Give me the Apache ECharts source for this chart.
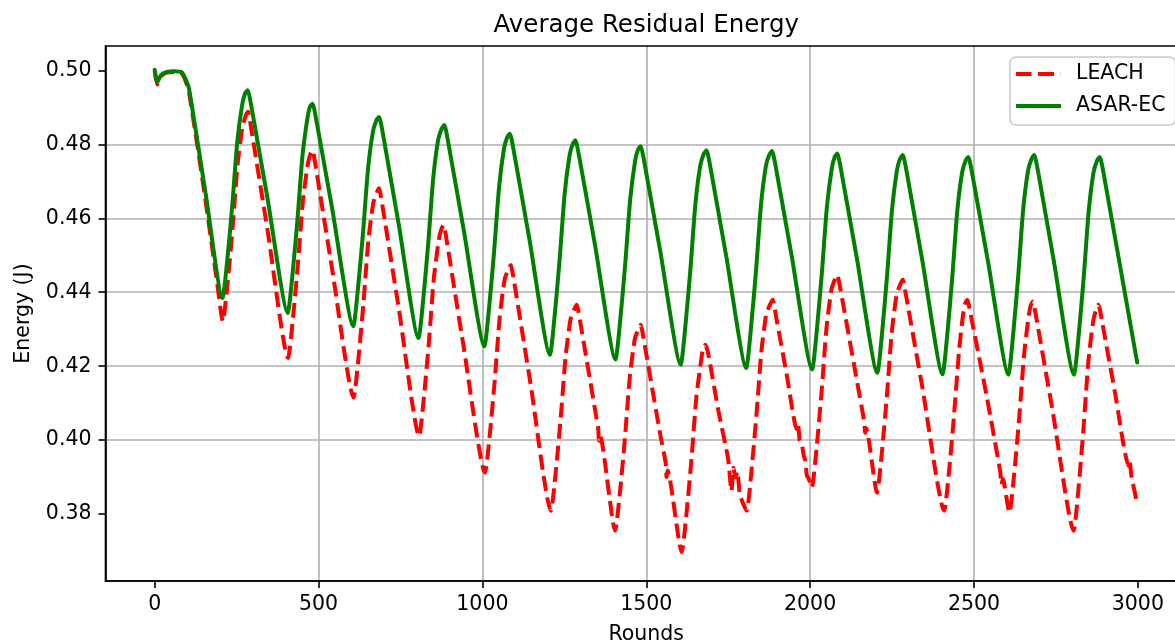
<!DOCTYPE html>
<html>
<head>
<meta charset="utf-8">
<script src="https://cdn.jsdelivr.net/npm/echarts@6/dist/echarts.min.js"></script>
<style>
html,body{margin:0;padding:0;background:#fff;}
#c{width:1175px;height:643px;}
</style>
</head>
<body>
<div id="c"></div>
<script>
// ---- data ----
const seriesNames = ['LEACH', 'ASAR-EC'];
const titleText = 'Average Residual Energy';
const xName = 'Rounds';
const yName = 'Energy (J)';
const xTicks = [0, 500, 1000, 1500, 2000, 2500, 3000];
const yTicks = [0.38, 0.40, 0.42, 0.44, 0.46, 0.48, 0.50];

const leachX = [0, 8, 20, 37, 60, 83, 95, 105, 150, 190, 208,
  223, 238, 253, 268, 278, 285, 290, 295, 345, 407,
  422, 437, 452, 467, 475, 482, 487, 492, 542, 607,
  622, 637, 652, 667, 678, 685, 690, 695, 745, 807,
  822, 837, 852, 867, 875, 882, 887, 892, 942, 1008,
  1023, 1038, 1053, 1068, 1080, 1087, 1092, 1097, 1147, 1209,
  1224, 1239, 1254, 1269, 1281, 1288, 1293, 1298, 1348, 1353, 1356, 1359, 1405,
  1420, 1435, 1450, 1465, 1476, 1483, 1488, 1493, 1543, 1559, 1562, 1565, 1608,
  1623, 1638, 1653, 1668, 1673, 1680, 1685, 1690, 1720, 1750, 1760, 1766, 1772, 1778, 1786, 1806,
  1821, 1836, 1851, 1866, 1879, 1886, 1891, 1896, 1930, 1959, 1963, 1968, 1975, 1980, 1985, 1990, 1996, 2005,
  2020, 2035, 2050, 2065, 2076, 2083, 2088, 2093, 2140, 2165, 2168, 2171, 2204,
  2219, 2234, 2249, 2264, 2276, 2283, 2288, 2293, 2343, 2409,
  2424, 2439, 2454, 2466, 2473, 2480, 2485, 2490, 2540, 2580, 2584, 2588, 2608,
  2623, 2638, 2653, 2666, 2673, 2680, 2685, 2690, 2740, 2804,
  2819, 2834, 2849, 2864, 2873, 2880, 2885, 2890, 2930, 2972, 2975, 2980, 2996];
const leachY = [0.4998, 0.4962, 0.4985, 0.4994, 0.4996, 0.4992, 0.4970, 0.4940, 0.4680, 0.4430, 0.4321,
  0.4429, 0.4576, 0.4746, 0.4848, 0.4877, 0.4888, 0.4868, 0.4841, 0.4565, 0.4222,
  0.4329, 0.4475, 0.4644, 0.4745, 0.4773, 0.4784, 0.4764, 0.4737, 0.4460, 0.4115,
  0.4223, 0.4370, 0.4540, 0.4641, 0.4670, 0.4681, 0.4661, 0.4634, 0.4356, 0.4011,
  0.4120, 0.4268, 0.4439, 0.4542, 0.4571, 0.4582, 0.4562, 0.4535, 0.4257, 0.3912,
  0.4019, 0.4165, 0.4334, 0.4435, 0.4463, 0.4474, 0.4454, 0.4428, 0.4152, 0.3809,
  0.3915, 0.4060, 0.4227, 0.4327, 0.4355, 0.4366, 0.4348, 0.4323, 0.4060, 0.4035, 0.3998, 0.4012, 0.3755,
  0.3861, 0.4006, 0.4173, 0.4273, 0.4301, 0.4312, 0.4294, 0.4269, 0.4014, 0.3940, 0.3900, 0.3918, 0.3697,
  0.3804, 0.3949, 0.4118, 0.4219, 0.4247, 0.4258, 0.4248, 0.4230, 0.4080, 0.3948, 0.3862, 0.3925, 0.3900, 0.3915, 0.3852, 0.3809,
  0.3917, 0.4066, 0.4237, 0.4340, 0.4369, 0.4380, 0.4362, 0.4335, 0.4170, 0.4030, 0.4045, 0.4000, 0.3990, 0.3960, 0.3945, 0.3905, 0.3895, 0.3872,
  0.3981, 0.4131, 0.4303, 0.4407, 0.4436, 0.4447, 0.4429, 0.4406, 0.4174, 0.4050, 0.4020, 0.4032, 0.3858,
  0.3967, 0.4117, 0.4290, 0.4394, 0.4423, 0.4434, 0.4415, 0.4390, 0.4140, 0.3809,
  0.3917, 0.4066, 0.4237, 0.4335, 0.4369, 0.4380, 0.4363, 0.4340, 0.4113, 0.3915, 0.3880, 0.3895, 0.3804,
  0.3912, 0.4061, 0.4232, 0.4330, 0.4364, 0.4375, 0.4356, 0.4332, 0.4079, 0.3755,
  0.3871, 0.4030, 0.4213, 0.4323, 0.4354, 0.4366, 0.4350, 0.4325, 0.4130, 0.3930, 0.3945, 0.3905, 0.3836];

const asarX = [0, 8, 20, 37, 60, 83, 95, 105, 155, 207,
  222, 237, 252, 267, 276, 284, 289, 296, 344, 406,
  421, 436, 451, 466, 474, 482, 487, 494, 542, 606,
  621, 636, 651, 666, 677, 685, 690, 697, 745, 805,
  820, 835, 850, 865, 876, 884, 889, 896, 944, 1006,
  1021, 1036, 1051, 1066, 1076, 1084, 1089, 1096, 1144, 1206,
  1221, 1236, 1251, 1266, 1276, 1284, 1289, 1296, 1344, 1406,
  1421, 1436, 1451, 1466, 1475, 1483, 1488, 1495, 1543, 1605,
  1620, 1635, 1650, 1665, 1676, 1684, 1689, 1696, 1744, 1805,
  1820, 1835, 1850, 1865, 1876, 1884, 1889, 1896, 1944, 2006,
  2021, 2036, 2051, 2066, 2075, 2083, 2088, 2095, 2143, 2205,
  2220, 2235, 2250, 2265, 2275, 2283, 2288, 2295, 2343, 2404,
  2419, 2434, 2449, 2464, 2475, 2483, 2488, 2495, 2543, 2605,
  2620, 2635, 2650, 2665, 2676, 2684, 2689, 2696, 2744, 2805,
  2820, 2835, 2850, 2865, 2876, 2884, 2889, 2896, 2944, 2998];
const asarY = [0.5002, 0.4968, 0.4988, 0.4996, 0.4998, 0.4995, 0.4975, 0.4950, 0.4670, 0.4384,
  0.4491, 0.4637, 0.4806, 0.4907, 0.4938, 0.4946, 0.4931, 0.4898, 0.4656, 0.4344,
  0.4452, 0.4599, 0.4769, 0.4870, 0.4902, 0.4910, 0.4895, 0.4862, 0.4625, 0.4308,
  0.4416, 0.4563, 0.4733, 0.4834, 0.4866, 0.4874, 0.4859, 0.4826, 0.4582, 0.4276,
  0.4385, 0.4535, 0.4708, 0.4812, 0.4843, 0.4852, 0.4837, 0.4804, 0.4564, 0.4254,
  0.4363, 0.4513, 0.4685, 0.4789, 0.4820, 0.4829, 0.4814, 0.4781, 0.4541, 0.4231,
  0.4341, 0.4492, 0.4666, 0.4770, 0.4802, 0.4811, 0.4796, 0.4764, 0.4526, 0.4218,
  0.4328, 0.4478, 0.4651, 0.4755, 0.4786, 0.4795, 0.4780, 0.4748, 0.4510, 0.4204,
  0.4314, 0.4465, 0.4639, 0.4743, 0.4775, 0.4784, 0.4769, 0.4737, 0.4498, 0.4195,
  0.4307, 0.4459, 0.4635, 0.4741, 0.4773, 0.4782, 0.4767, 0.4735, 0.4497, 0.4191,
  0.4302, 0.4454, 0.4629, 0.4734, 0.4766, 0.4775, 0.4760, 0.4728, 0.4490, 0.4182,
  0.4294, 0.4447, 0.4624, 0.4730, 0.4762, 0.4771, 0.4756, 0.4724, 0.4483, 0.4178,
  0.4290, 0.4443, 0.4619, 0.4725, 0.4757, 0.4766, 0.4751, 0.4719, 0.4482, 0.4177,
  0.4290, 0.4444, 0.4623, 0.4729, 0.4762, 0.4771, 0.4756, 0.4724, 0.4483, 0.4177,
  0.4289, 0.4442, 0.4619, 0.4725, 0.4757, 0.4766, 0.4751, 0.4719, 0.4480, 0.4210];

// ---- chart ----
const FONT = 'DejaVu Sans';
const pairs = (xs, ys) => xs.map((x, i) => [x, ys[i]]);

const G = { left: 105.5, top: 46, width: 1081.5, height: 535 };

const chart = echarts.init(document.getElementById('c'), null, { renderer: 'canvas' });
chart.setOption({
  animation: false,
  backgroundColor: '#ffffff',
  textStyle: { fontFamily: FONT, color: '#000' },
  grid: { left: G.left, top: G.top, width: G.width, height: G.height, containLabel: false, outerBoundsMode: 'none' },
  xAxis: {
    type: 'value', min: -150, max: 3150, splitNumber: 7, minInterval: 500, maxInterval: 500,
    name: xName, nameLocation: 'middle', nameGap: 43,
    nameTextStyle: { color: '#000', fontSize: 20.5, fontFamily: FONT },
    axisLine: { show: true, onZero: false, lineStyle: { color: '#000', width: 1.6 } },
    axisTick: { show: true, inside: false, length: 7, customValues: xTicks, lineStyle: { color: '#000', width: 1.6 } },
    axisLabel: { customValues: xTicks, margin: 13, color: '#000', fontSize: 20.5, fontFamily: FONT,
      formatter: v => String(Math.round(v)) },
    splitLine: { show: true, showMinLine: false, showMaxLine: false, lineStyle: { color: '#b0b0b0', width: 1.6 } }
  },
  yAxis: {
    type: 'value', min: 0.3619, max: 0.5066, splitNumber: 7, minInterval: 0.02, maxInterval: 0.02,
    name: yName, nameLocation: 'middle', nameGap: 71, nameRotate: 90,
    nameTextStyle: { color: '#000', fontSize: 20.5, fontFamily: FONT },
    axisLine: { show: true, onZero: false, lineStyle: { color: '#000', width: 1.6 } },
    axisTick: { show: true, inside: false, length: 7, customValues: yTicks, lineStyle: { color: '#000', width: 1.6 } },
    axisLabel: { customValues: yTicks, margin: 14, color: '#000', fontSize: 20.5, fontFamily: FONT,
      formatter: v => v.toFixed(2) },
    splitLine: { show: true, showMinLine: false, showMaxLine: false, lineStyle: { color: '#b0b0b0', width: 1.6 } }
  },
  legend: {
    orient: 'vertical', left: 1010, top: 57,
    data: [
      { name: seriesNames[0], icon: 'path://M0 0H15.5V4H0Z M22 0H38V4H22Z M44.8 0H45V4H44.8Z' },
      { name: seriesNames[1], icon: 'rect' }
    ],
    itemWidth: 45, itemHeight: 4, itemGap: 8,
    padding: [5, 10, 7, 6],
    itemStyle: { borderWidth: 0 },
    backgroundColor: 'rgba(255,255,255,0.8)',
    borderColor: '#cccccc', borderWidth: 1.6, borderRadius: 6,
    textStyle: { fontSize: 20.5, color: '#000', fontFamily: FONT, lineHeight: 24, padding: [0, 0, 0, 10] }
  },
  graphic: [
    { type: 'text', z: 100, style: { text: titleText, x: G.left + G.width / 2, y: 26,
      align: 'center', verticalAlign: 'middle', fontSize: 24.5, fontFamily: FONT, fill: '#000' } },
    { type: 'rect', z: 90, silent: true, shape: { x: G.left, y: G.top, width: G.width, height: G.height },
      style: { fill: null, stroke: '#000', lineWidth: 1.6 } }
  ],
  series: [
    {
      name: seriesNames[0], type: 'line', data: pairs(leachX, leachY),
      symbol: 'none', smooth: 0.2, z: 3,
      lineStyle: { color: '#ff0000', width: 4, type: [15, 6.6], cap: 'butt' },
      itemStyle: { color: '#ff0000' }
    },
    {
      name: seriesNames[1], type: 'line', data: pairs(asarX, asarY),
      symbol: 'none', smooth: 0.2, z: 4,
      lineStyle: { color: '#008000', width: 4, type: 'solid', cap: 'round', join: 'round' },
      itemStyle: { color: '#008000' }
    }
  ]
});
</script>
</body>
</html>
